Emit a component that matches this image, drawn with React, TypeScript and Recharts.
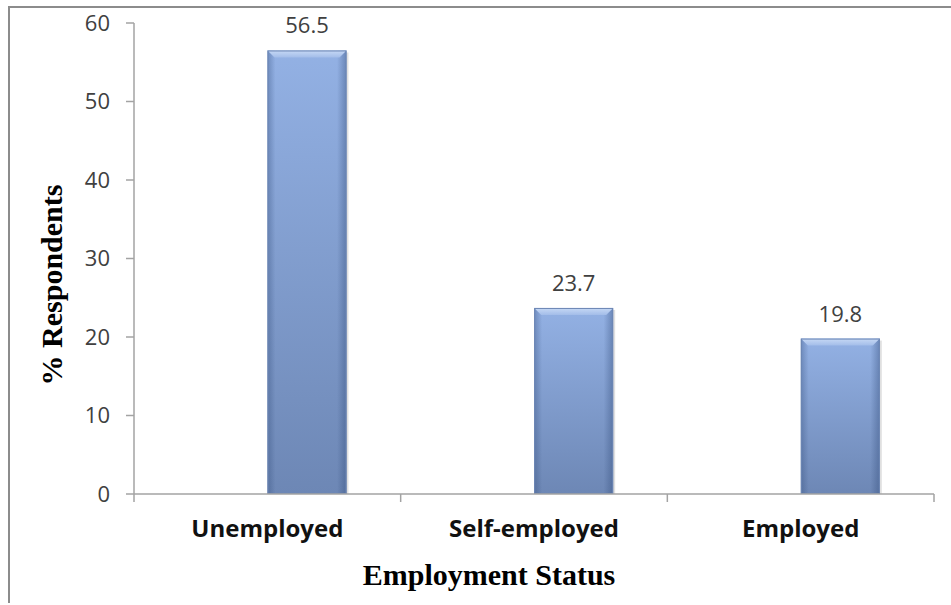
import { BarChart, Bar, XAxis, YAxis, LabelList, Label } from 'recharts';

// Employment status of respondents (%)
const categories = ['Unemployed', 'Self-employed', 'Employed'];
const respondents = [56.5, 23.7, 19.8];
const yTicks = [0, 10, 20, 30, 40, 50, 60];

const data = categories.map((status, i) => ({ status, value: respondents[i] }));

const TICK_FONT = '"Open Sans", Calibri, sans-serif';
const TITLE_FONT = '"Liberation Serif", "Times New Roman", serif';
const AXIS_GREY = '#a3a3a3';

// bars sit to the right of the category centre, like the Excel 3-D column look
function BevelBar(props: any) {
  const { x, y, width, height } = props;
  if (!height || height <= 0) return null;
  const bx = x + width / 2;
  const b = 7;
  return (
    <g>
      <rect x={bx + 2} y={y + 2} width={width} height={height - 2} fill="rgba(0,0,0,0.12)" />
      <rect x={bx} y={y} width={width} height={height} fill="url(#barBody)" />
      <rect x={bx} y={y} width={width} height={height} fill="url(#barEdges)" />
      <polygon
        points={`${bx},${y} ${bx + width},${y} ${bx + width - b},${y + b} ${bx + b},${y + b}`}
        fill="url(#barTop)"
      />
      <rect x={bx + 0.5} y={y + 0.5} width={width - 1} height={height - 1} fill="none" stroke="#6c86b4" strokeWidth={1} />
    </g>
  );
}

function ValueLabel(props: any) {
  const { x, y, width, value } = props;
  return (
    <text x={x + width} y={y - 17} textAnchor="middle" fontFamily={TICK_FONT} fontSize={22} fill="#404040">
      {value}
    </text>
  );
}

function CategoryTick(props: any) {
  const { x, y, payload, index, visibleTicksCount } = props;
  const half = payload?.offset ?? 133.33;
  const axisY = y - 26;
  return (
    <g>
      <line x1={x - half} x2={x - half} y1={axisY} y2={axisY + 8} stroke={AXIS_GREY} strokeWidth={1.5} />
      {index === visibleTicksCount - 1 && (
        <line x1={x + half} x2={x + half} y1={axisY} y2={axisY + 8} stroke={AXIS_GREY} strokeWidth={1.5} />
      )}
      <text x={x} y={y} dy="0.72em" textAnchor="middle" fontFamily={TICK_FONT} fontWeight={700} fontSize={24} fill="#111">
        {payload.value}
      </text>
    </g>
  );
}

export default function App() {
  return (
    <div
      style={{
        position: 'absolute',
        left: 8,
        top: 6,
        width: 943,
        height: 597,
        borderTop: '2px solid #8c8c8c',
        borderLeft: '2px solid #8c8c8c',
        boxSizing: 'border-box',
        background: '#fff',
        overflow: 'hidden',
      }}
    >
      <BarChart
        width={941}
        height={595}
        data={data}
        margin={{ top: 15, right: 17, left: 0, bottom: 0 }}
      >
        <defs>
          <linearGradient id="barBody" x1="0" y1="0" x2="0" y2="1">
            <stop offset="0%" stopColor="#93b1e4" />
            <stop offset="100%" stopColor="#6d87b5" />
          </linearGradient>
          <linearGradient id="barEdges" x1="0" y1="0" x2="1" y2="0">
            <stop offset="0%" stopColor="#2c4674" stopOpacity={0.35} />
            <stop offset="10%" stopColor="#2c4674" stopOpacity={0} />
            <stop offset="88%" stopColor="#2c4674" stopOpacity={0} />
            <stop offset="100%" stopColor="#2c4674" stopOpacity={0.4} />
          </linearGradient>
          <linearGradient id="barTop" x1="0" y1="0" x2="0" y2="1">
            <stop offset="0%" stopColor="#c7d9f5" />
            <stop offset="100%" stopColor="#a3bde9" />
          </linearGradient>
        </defs>
        <XAxis
          dataKey="status"
          height={109}
          axisLine={{ stroke: AXIS_GREY, strokeWidth: 1.5 }}
          tickLine={false}
          tickSize={8}
          tickMargin={18}
          interval={0}
          tick={<CategoryTick />}
        >
          <Label
            content={() => (
              <text x={479} y={577} textAnchor="middle" fontFamily={TITLE_FONT} fontWeight={700} fontSize={30} fill="#000">
                Employment Status
              </text>
            )}
          />
        </XAxis>
        <YAxis
          width={124}
          domain={[0, 60]}
          ticks={yTicks}
          interval={0}
          axisLine={{ stroke: AXIS_GREY, strokeWidth: 1.5 }}
          tickLine={{ stroke: AXIS_GREY, strokeWidth: 1.5 }}
          tickSize={8}
          tickMargin={16}
          tick={{ fontFamily: TICK_FONT, fontSize: 22, fill: '#404040' }}
        >
          <Label
            content={() => (
              <text
                transform="translate(52,277) rotate(-90)"
                textAnchor="middle"
                fontFamily={TITLE_FONT}
                fontWeight={700}
                fontSize={30}
                fill="#000"
              >
                % Respondents
              </text>
            )}
          />
        </YAxis>
        <Bar dataKey="value" barSize={79} shape={<BevelBar />} isAnimationActive={false}>
          <LabelList dataKey="value" content={<ValueLabel />} />
        </Bar>
      </BarChart>
    </div>
  );
}
